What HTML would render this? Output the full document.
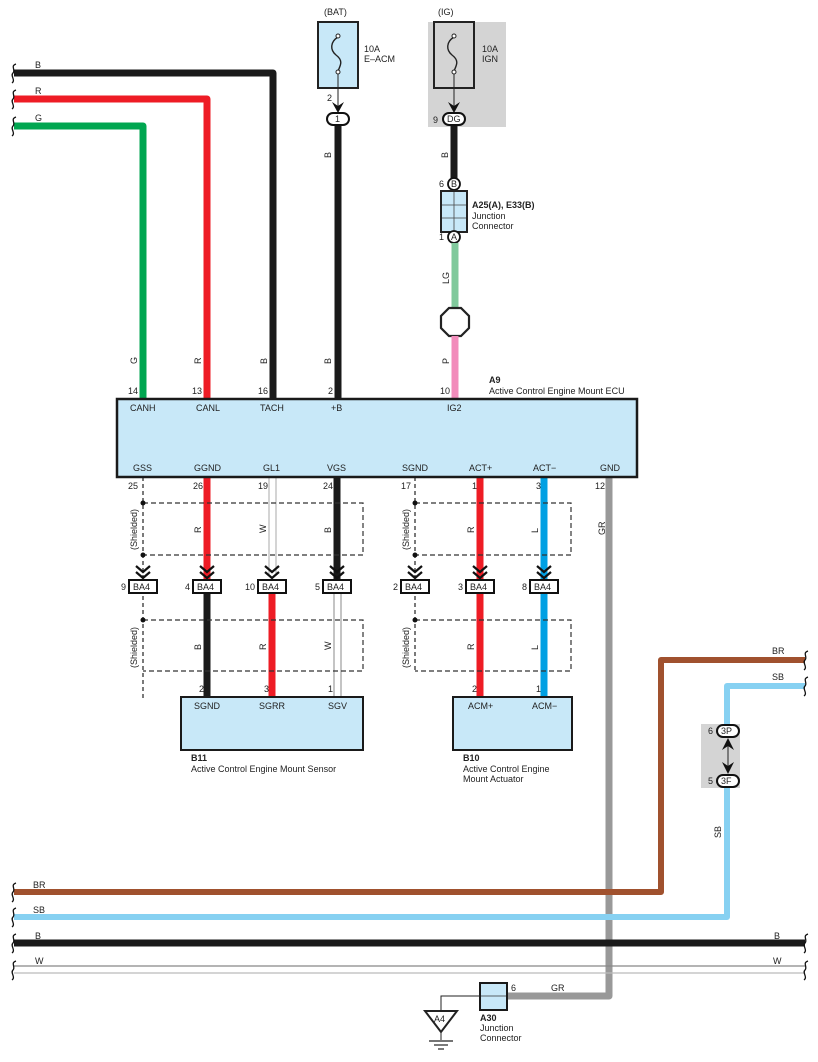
<!DOCTYPE html>
<html><head><meta charset="utf-8"><style>
html,body{margin:0;padding:0;background:#fff;}
svg{display:block;font-family:"Liberation Sans",Arial,sans-serif;}
text{font-size:9px;fill:#222;}
.b{font-weight:bold;}
</style></head><body>
<svg width="818" height="1062" viewBox="0 0 818 1062" xmlns="http://www.w3.org/2000/svg">
<defs>
<g id="chev"><path d="M-7,-12 L0,-6 L7,-12 M-7,-6 L0,0 L7,-6" fill="none" stroke="#111" stroke-width="2.2"/></g>
<g id="brk"><path d="M3,-9 C-3,-7 3,-3 0,0 C-3,3 3,7 -1,10" fill="none" stroke="#111" stroke-width="1.3"/></g>
</defs>

<!-- top-left wires -->
<path d="M14,73 H273 V399" fill="none" stroke="#1a1a1a" stroke-width="7" stroke-linejoin="round"/>
<path d="M14,99 H207 V399" fill="none" stroke="#ee1c25" stroke-width="7" stroke-linejoin="round"/>
<path d="M14,126 H143 V399" fill="none" stroke="#00a650" stroke-width="7" stroke-linejoin="round"/>
<use href="#brk" x="13" y="73"/><use href="#brk" x="13" y="99"/><use href="#brk" x="13" y="126"/>
<text x="35" y="68">B</text><text x="35" y="94">R</text><text x="35" y="121">G</text>

<!-- BAT fuse -->
<text x="324" y="15">(BAT)</text>
<rect x="318" y="22" width="40" height="66" fill="#c8e8f8" stroke="#222" stroke-width="2"/>
<path d="M338,37 C330,42 330,50 336,55 C344,61 340,66 338,71" fill="none" stroke="#222" stroke-width="1.4"/>
<circle cx="338" cy="36" r="2" fill="#fff" stroke="#222"/><circle cx="338" cy="72" r="2" fill="#fff" stroke="#222"/>
<line x1="338" y1="74" x2="338" y2="108" stroke="#222" stroke-width="1"/>
<text x="364" y="52">10A</text><text x="364" y="62">E–ACM</text>
<text x="327" y="101">2</text>
<path d="M332,102 L338,113 L344,102 L338,106Z" fill="#111"/>
<rect x="327" y="113" width="22" height="12" rx="6" fill="#fff" stroke="#111" stroke-width="2"/>
<text x="335" y="122">1</text>
<line x1="338" y1="126" x2="338" y2="399" stroke="#1a1a1a" stroke-width="7"/>
<text transform="translate(331,158) rotate(-90)">B</text>
<text transform="translate(331,364) rotate(-90)">B</text>

<!-- IG fuse -->
<rect x="428" y="22" width="78" height="105" fill="#d4d4d4"/>
<text x="438" y="15">(IG)</text>
<rect x="434" y="22" width="40" height="66" fill="#d4d4d4" stroke="#222" stroke-width="2"/>
<path d="M454,37 C446,42 446,50 452,55 C460,61 456,66 454,71" fill="none" stroke="#222" stroke-width="1.4"/>
<circle cx="454" cy="36" r="2" fill="#fff" stroke="#222"/><circle cx="454" cy="72" r="2" fill="#fff" stroke="#222"/>
<line x1="454" y1="74" x2="454" y2="108" stroke="#222" stroke-width="1"/>
<text x="482" y="52">10A</text><text x="482" y="62">IGN</text>
<path d="M448,102 L454,113 L460,102 L454,106Z" fill="#111"/>
<text x="433" y="123">9</text>
<rect x="443" y="113" width="22" height="12" rx="6" fill="#fff" stroke="#111" stroke-width="2"/>
<text x="447" y="122">DG</text>
<line x1="454" y1="126" x2="454" y2="178" stroke="#1a1a1a" stroke-width="7"/>
<text transform="translate(448,158) rotate(-90)">B</text>
<text x="439" y="187">6</text>
<circle cx="454" cy="184" r="6" fill="#fff" stroke="#111" stroke-width="1.8"/><text x="451" y="187">B</text>
<rect x="441" y="191" width="26" height="41" fill="#c8e8f8" stroke="#222" stroke-width="2"/>
<line x1="454" y1="192" x2="454" y2="231" stroke="#444" stroke-width="0.8"/>
<line x1="442" y1="205" x2="466" y2="205" stroke="#444" stroke-width="0.8"/>
<line x1="442" y1="218" x2="466" y2="218" stroke="#444" stroke-width="0.8"/>
<text x="472" y="208" class="b">A25(A), E33(B)</text>
<text x="472" y="219">Junction</text><text x="472" y="229">Connector</text>
<text x="439" y="240">1</text>
<circle cx="454" cy="237" r="6" fill="#fff" stroke="#111" stroke-width="1.8"/><text x="451" y="240">A</text>
<line x1="455" y1="243" x2="455" y2="308" stroke="#80c99c" stroke-width="7"/>
<text transform="translate(449,284) rotate(-90)">LG</text>
<polygon points="449,308 461,308 469,316 469,328 461,336 449,336 441,328 441,316" fill="#fff" stroke="#222" stroke-width="2.2"/>
<line x1="455" y1="336" x2="455" y2="399" stroke="#f28cbb" stroke-width="7"/>
<text transform="translate(449,364) rotate(-90)">P</text>

<!-- wire labels above ECU -->
<text transform="translate(137,364) rotate(-90)">G</text>
<text transform="translate(201,364) rotate(-90)">R</text>
<text transform="translate(267,364) rotate(-90)">B</text>
<text x="128" y="394">14</text><text x="192" y="394">13</text><text x="258" y="394">16</text><text x="328" y="394">2</text><text x="440" y="394">10</text>
<text x="489" y="383" class="b">A9</text>
<text x="489" y="394">Active Control Engine Mount ECU</text>

<!-- bottom wires from ECU -->
<line x1="143" y1="477" x2="143" y2="698" stroke="#222" stroke-width="1.2" stroke-dasharray="4,3"/>
<line x1="207" y1="477" x2="207" y2="580" stroke="#ee1c25" stroke-width="7"/>
<line x1="207" y1="594" x2="207" y2="698" stroke="#1a1a1a" stroke-width="7"/>
<line x1="269" y1="477" x2="269" y2="575" stroke="#aaa" stroke-width="1"/><line x1="276" y1="477" x2="276" y2="575" stroke="#aaa" stroke-width="1"/>
<line x1="272" y1="594" x2="272" y2="698" stroke="#ee1c25" stroke-width="7"/>
<line x1="337" y1="477" x2="337" y2="580" stroke="#1a1a1a" stroke-width="7"/>
<line x1="334" y1="594" x2="334" y2="698" stroke="#888" stroke-width="1"/><line x1="341" y1="594" x2="341" y2="698" stroke="#888" stroke-width="1"/>
<line x1="415" y1="477" x2="415" y2="671" stroke="#222" stroke-width="1.2" stroke-dasharray="4,3"/>
<line x1="480" y1="477" x2="480" y2="698" stroke="#ee1c25" stroke-width="7"/>
<line x1="544" y1="477" x2="544" y2="698" stroke="#00a0e3" stroke-width="7"/>
<path d="M609,477 V996 H507" fill="none" stroke="#999" stroke-width="7" stroke-linejoin="round"/>
<text transform="translate(605,535) rotate(-90)">GR</text>

<!-- ECU box -->
<rect x="117" y="399" width="520" height="78" fill="#c8e8f8" stroke="#1a1a1a" stroke-width="2.5"/>
<text x="130" y="411">CANH</text><text x="196" y="411">CANL</text><text x="260" y="411">TACH</text><text x="331" y="411">+B</text><text x="447" y="411">IG2</text>
<text x="133" y="471">GSS</text><text x="194" y="471">GGND</text><text x="263" y="471">GL1</text><text x="327" y="471">VGS</text>
<text x="402" y="471">SGND</text><text x="469" y="471">ACT+</text><text x="533" y="471">ACT−</text><text x="600" y="471">GND</text>
<text x="128" y="489">25</text><text x="193" y="489">26</text><text x="258" y="489">19</text><text x="323" y="489">24</text>
<text x="401" y="489">17</text><text x="472" y="489">1</text><text x="536" y="489">3</text><text x="595" y="489">12</text>

<!-- shields -->
<g fill="none" stroke="#333" stroke-width="1.2" stroke-dasharray="5,3">
<path d="M143,503 H363 V555 H143"/><path d="M143,620 H363 V671 H143"/>
<path d="M415,503 H571 V555 H415"/><path d="M415,620 H571 V671 H415"/>
</g>
<g fill="#111"><circle cx="143" cy="503" r="2.5"/><circle cx="143" cy="555" r="2.5"/><circle cx="143" cy="620" r="2.5"/>
<circle cx="415" cy="503" r="2.5"/><circle cx="415" cy="555" r="2.5"/><circle cx="415" cy="620" r="2.5"/></g>
<text transform="translate(137,550) rotate(-90)">(Shielded)</text>
<text transform="translate(137,668) rotate(-90)">(Shielded)</text>
<text transform="translate(409,550) rotate(-90)">(Shielded)</text>
<text transform="translate(409,668) rotate(-90)">(Shielded)</text>
<text transform="translate(201,533) rotate(-90)">R</text>
<text transform="translate(266,533) rotate(-90)">W</text>
<text transform="translate(331,533) rotate(-90)">B</text>
<text transform="translate(474,533) rotate(-90)">R</text>
<text transform="translate(538,533) rotate(-90)">L</text>
<text transform="translate(201,650) rotate(-90)">B</text>
<text transform="translate(266,650) rotate(-90)">R</text>
<text transform="translate(331,650) rotate(-90)">W</text>
<text transform="translate(474,650) rotate(-90)">R</text>
<text transform="translate(538,650) rotate(-90)">L</text>

<!-- BA4 connectors -->
<g>
<use href="#chev" x="143" y="578"/><rect x="129" y="580" width="28" height="13" fill="#fff" stroke="#111" stroke-width="2"/><text x="133" y="590">BA4</text><text x="121" y="590">9</text>
<use href="#chev" x="207" y="578"/><rect x="193" y="580" width="28" height="13" fill="#fff" stroke="#111" stroke-width="2"/><text x="197" y="590">BA4</text><text x="185" y="590">4</text>
<use href="#chev" x="272" y="578"/><rect x="258" y="580" width="28" height="13" fill="#fff" stroke="#111" stroke-width="2"/><text x="262" y="590">BA4</text><text x="245" y="590">10</text>
<use href="#chev" x="337" y="578"/><rect x="323" y="580" width="28" height="13" fill="#fff" stroke="#111" stroke-width="2"/><text x="327" y="590">BA4</text><text x="315" y="590">5</text>
<use href="#chev" x="415" y="578"/><rect x="401" y="580" width="28" height="13" fill="#fff" stroke="#111" stroke-width="2"/><text x="405" y="590">BA4</text><text x="393" y="590">2</text>
<use href="#chev" x="480" y="578"/><rect x="466" y="580" width="28" height="13" fill="#fff" stroke="#111" stroke-width="2"/><text x="470" y="590">BA4</text><text x="458" y="590">3</text>
<use href="#chev" x="544" y="578"/><rect x="530" y="580" width="28" height="13" fill="#fff" stroke="#111" stroke-width="2"/><text x="534" y="590">BA4</text><text x="522" y="590">8</text>
</g>

<!-- B11 / B10 -->
<text x="199" y="692">2</text><text x="264" y="692">3</text><text x="328" y="692">1</text>
<rect x="181" y="697" width="182" height="53" fill="#c8e8f8" stroke="#1a1a1a" stroke-width="2"/>
<text x="194" y="709">SGND</text><text x="259" y="709">SGRR</text><text x="328" y="709">SGV</text>
<text x="191" y="761" class="b">B11</text><text x="191" y="772">Active Control Engine Mount Sensor</text>
<text x="472" y="692">2</text><text x="536" y="692">1</text>
<rect x="453" y="697" width="119" height="53" fill="#c8e8f8" stroke="#1a1a1a" stroke-width="2"/>
<text x="468" y="709">ACM+</text><text x="532" y="709">ACM−</text>
<text x="463" y="761" class="b">B10</text><text x="463" y="772">Active Control Engine</text><text x="463" y="782">Mount Actuator</text>

<!-- right side BR / SB -->
<path d="M805,660 H661 V892 H14" fill="none" stroke="#a0512e" stroke-width="6" stroke-linejoin="round"/>
<path d="M805,686 H727 V917 H14" fill="none" stroke="#87d1f2" stroke-width="6" stroke-linejoin="round"/>
<rect x="701" y="724" width="39" height="64" fill="#d4d4d4"/>
<rect x="717" y="725" width="22" height="12" rx="6" fill="#fff" stroke="#111" stroke-width="2"/><text x="721" y="734">3P</text><text x="708" y="734">6</text>
<rect x="717" y="775" width="22" height="12" rx="6" fill="#fff" stroke="#111" stroke-width="2"/><text x="721" y="784">3F</text><text x="708" y="784">5</text>
<line x1="728" y1="742" x2="728" y2="770" stroke="#222" stroke-width="1"/>
<path d="M722,750 L728,738 L734,750 L728,746Z" fill="#111"/>
<path d="M722,762 L728,774 L734,762 L728,766Z" fill="#111"/>
<text transform="translate(721,838) rotate(-90)">SB</text>
<text x="772" y="654">BR</text><text x="772" y="680">SB</text>
<use href="#brk" x="805" y="660"/><use href="#brk" x="805" y="686"/>

<!-- bottom bus -->
<line x1="14" y1="943" x2="805" y2="943" stroke="#1a1a1a" stroke-width="7"/>
<line x1="14" y1="966" x2="805" y2="966" stroke="#888" stroke-width="1.2"/>
<line x1="14" y1="973" x2="805" y2="973" stroke="#bbb" stroke-width="1.2"/>
<use href="#brk" x="13" y="892"/><use href="#brk" x="13" y="917"/><use href="#brk" x="13" y="943"/><use href="#brk" x="13" y="970"/>
<use href="#brk" x="805" y="943"/><use href="#brk" x="805" y="970"/>
<text x="33" y="888">BR</text><text x="33" y="913">SB</text><text x="35" y="939">B</text><text x="35" y="964">W</text>
<text x="774" y="939">B</text><text x="773" y="964">W</text>

<!-- A30 / ground -->
<rect x="480" y="983" width="27" height="27" fill="#c8e8f8" stroke="#1a1a1a" stroke-width="2"/>
<line x1="481" y1="996" x2="506" y2="996" stroke="#333" stroke-width="0.8"/>
<text x="511" y="991">6</text><text x="551" y="991">GR</text>
<text x="480" y="1021" class="b">A30</text><text x="480" y="1031">Junction</text><text x="480" y="1041">Connector</text>
<path d="M480,996 H441 V1011" fill="none" stroke="#222" stroke-width="1"/>
<polygon points="425,1011 457,1011 441,1032" fill="#fff" stroke="#222" stroke-width="2"/>
<text x="434" y="1022">A4</text>
<line x1="441" y1="1032" x2="441" y2="1040" stroke="#222" stroke-width="1"/>
<line x1="429" y1="1041" x2="453" y2="1041" stroke="#222" stroke-width="1.2"/>
<line x1="434" y1="1045" x2="448" y2="1045" stroke="#222" stroke-width="1.2"/>
<line x1="438" y1="1049" x2="444" y2="1049" stroke="#222" stroke-width="1.2"/>
</svg>
</body></html>
